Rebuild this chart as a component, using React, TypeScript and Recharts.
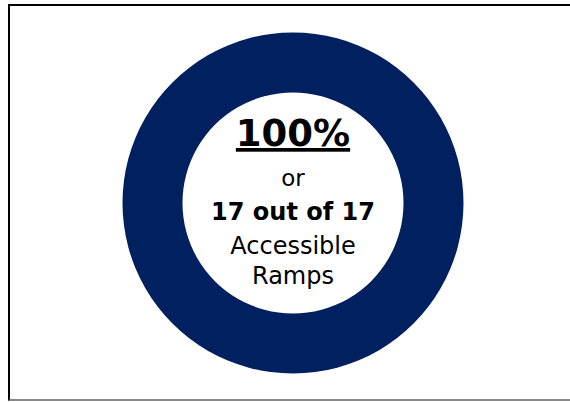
import { PieChart, Pie, Cell, Label } from 'recharts';

// ramp survey result
const categories = ['Accessible', 'Not accessible'];
const rampCounts = [17, 0];
const totalRamps = 17;
const colors = ['#002060', '#ffffff'];

const data = categories.map((name, i) => ({ name, value: rampCounts[i] }));

const FONT = '"DejaVu Sans", Verdana, sans-serif';
const CX = 293;
const CY = 203;

function CenterText() {
  const pct = Math.round((rampCounts[0] / totalRamps) * 100);
  return (
    <g fontFamily={FONT} fill="#000" textAnchor="middle">
      <text x={CX} y={CY - 57} fontSize={37} fontWeight="bold" style={{ textDecoration: 'underline' }}>
        {`${pct}%`}
      </text>
      <text x={CX} y={CY - 17} fontSize={23}>or</text>
      <text x={CX} y={CY + 17} fontSize={24} fontWeight="bold">
        {`${rampCounts[0]} out of ${totalRamps}`}
      </text>
      <text x={CX} y={CY + 51} fontSize={24}>Accessible</text>
      <text x={CX} y={CY + 81} fontSize={24}>Ramps</text>
    </g>
  );
}

export default function App() {
  return (
    <div style={{ position: 'absolute', left: 0, top: 0, width: 570, height: 402, background: '#fff' }}>
      {/* frame */}
      <div
        style={{
          position: 'absolute',
          left: 8,
          top: 4,
          width: 562,
          height: 397,
          boxSizing: 'border-box',
          borderLeft: '2px solid #000',
          borderTop: '2px solid #000',
          borderBottom: '2px solid #888',
        }}
      />
      <div style={{ position: 'absolute', left: 0, top: 0 }}>
        <PieChart width={570} height={402} margin={{ top: 0, right: 0, bottom: 0, left: 0 }}>
          <Pie
            data={data}
            dataKey="value"
            nameKey="name"
            cx={CX}
            cy={CY}
            innerRadius={110.5}
            outerRadius={170.5}
            startAngle={90}
            endAngle={-270}
            stroke="none"
            isAnimationActive={false}
          >
            {data.map((d, i) => (
              <Cell key={d.name} fill={colors[i]} />
            ))}
            <Label position="center" content={<CenterText />} />
          </Pie>
        </PieChart>
      </div>
    </div>
  );
}
